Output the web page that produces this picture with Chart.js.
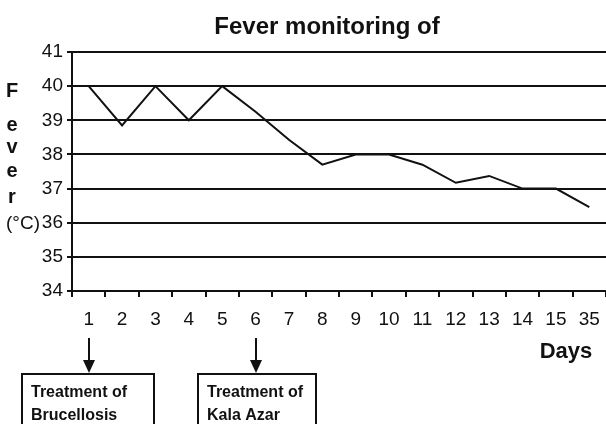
<!DOCTYPE html>
<html>
<head>
<meta charset="utf-8">
<script src="https://cdn.jsdelivr.net/npm/chart.js@4.4.1/dist/chart.umd.min.js"></script>
<style>
	html, body { margin: 0; padding: 0; background: #fff; }
	#wrap { width: 606px; height: 424px; position: relative; }
</style>
</head>
<body>
<div id="wrap"><canvas id="feverChart"></canvas></div>
<script>
const days = ['1', '2', '3', '4', '5', '6', '7', '8', '9', '10', '11', '12', '13', '14', '15', '35'];
const temperatures = [40, 38.85, 40, 39, 40, 39.25, 38.43, 37.7, 38, 38, 37.7, 37.17, 37.37, 37, 37, 36.46];
const yMin = 34;
const yMax = 41;
const chartTitle = 'Fever monitoring of';
const yTitleLetters = ['F', 'e', 'v', 'e', 'r'];
const yUnit = '(°C)';
const xTitle = 'Days';
const treatmentDays = ['1', '6'];
const treatmentLabels = [['Treatment of', 'Brucellosis'], ['Treatment of', 'Kala Azar']];

const FONT = "'Liberation Sans', Arial, Helvetica, sans-serif";
const INK = '#111';

// title, stacked y title, "Days", arrows and treatment boxes
const extrasPlugin = {
	id: 'extras',
	afterDraw(chart) {
		const ctx = chart.ctx;
		const x = chart.scales.x;
		ctx.save();
		ctx.fillStyle = INK;
		ctx.strokeStyle = INK;

		ctx.font = `bold 24px ${FONT}`;
		ctx.textAlign = 'center';
		ctx.textBaseline = 'alphabetic';
		ctx.fillText(chartTitle, 327, 34);

		const letterBase = [97, 131, 153, 177, 203];
		ctx.font = `bold 20px ${FONT}`;
		yTitleLetters.forEach((ch, i) => ctx.fillText(ch, 12, letterBase[i]));
		ctx.font = `19px ${FONT}`;
		ctx.fillText(yUnit, 23, 229);

		ctx.font = `bold 22px ${FONT}`;
		ctx.fillText(xTitle, 566, 358);

		const boxLeft = [-67, -58];
		const boxWidth = [132, 118];
		treatmentDays.forEach((day, i) => {
			const px = Math.round(x.getPixelForValue(days.indexOf(day)));
			ctx.lineWidth = 2;
			ctx.beginPath();
			ctx.moveTo(px, 338);
			ctx.lineTo(px, 362);
			ctx.stroke();
			ctx.beginPath();
			ctx.moveTo(px - 6, 360);
			ctx.lineTo(px + 6, 360);
			ctx.lineTo(px, 373);
			ctx.closePath();
			ctx.fill();

			const left = px + boxLeft[i];
			ctx.strokeRect(left, 374, boxWidth[i], 70);
			ctx.font = `bold 16px ${FONT}`;
			ctx.textAlign = 'left';
			ctx.fillText(treatmentLabels[i][0], left + 9, 397);
			ctx.fillText(treatmentLabels[i][1], left + 9, 420);
			ctx.textAlign = 'center';
		});
		ctx.restore();
	},
};

const ctx = document.getElementById('feverChart').getContext('2d');
const feverChart = new Chart(ctx, {
	type: 'line',
	data: {
		labels: days,
		datasets: [
			{
				label: 'Fever',
				data: temperatures,
				borderColor: INK,
				borderWidth: 2,
				pointRadius: 0,
				tension: 0,
				fill: false,
			},
		],
	},
	options: {
		responsive: true,
		maintainAspectRatio: false,
		animation: false,
		layout: { padding: { top: 52, left: 0, right: 0, bottom: 0 } },
		plugins: {
			legend: { display: false },
			title: { display: false },
			tooltip: { enabled: false },
		},
		scales: {
			x: {
				offset: true,
				grid: {
					display: true,
					offset: true,
					drawOnChartArea: false,
					drawTicks: true,
					tickLength: 6,
					color: INK,
					lineWidth: 2,
				},
				border: { display: true, color: INK, width: 2 },
				ticks: {
					color: INK,
					font: { family: FONT, size: 19 },
					padding: 11,
					maxRotation: 0,
					autoSkip: false,
				},
				afterFit: (scale) => {
					scale.height = 133;
					scale.paddingLeft = 0;
					scale.paddingRight = 0;
				},
			},
			y: {
				min: yMin,
				max: yMax,
				ticks: {
					stepSize: 1,
					color: INK,
					font: { family: FONT, size: 19 },
					padding: 4,
				},
				grid: { color: INK, lineWidth: 2, tickLength: 5 },
				border: { display: true, color: INK, width: 2 },
				afterFit: (scale) => {
					scale.width = 72;
				},
			},
		},
	},
	plugins: [extrasPlugin],
});
</script>
</body>
</html>
